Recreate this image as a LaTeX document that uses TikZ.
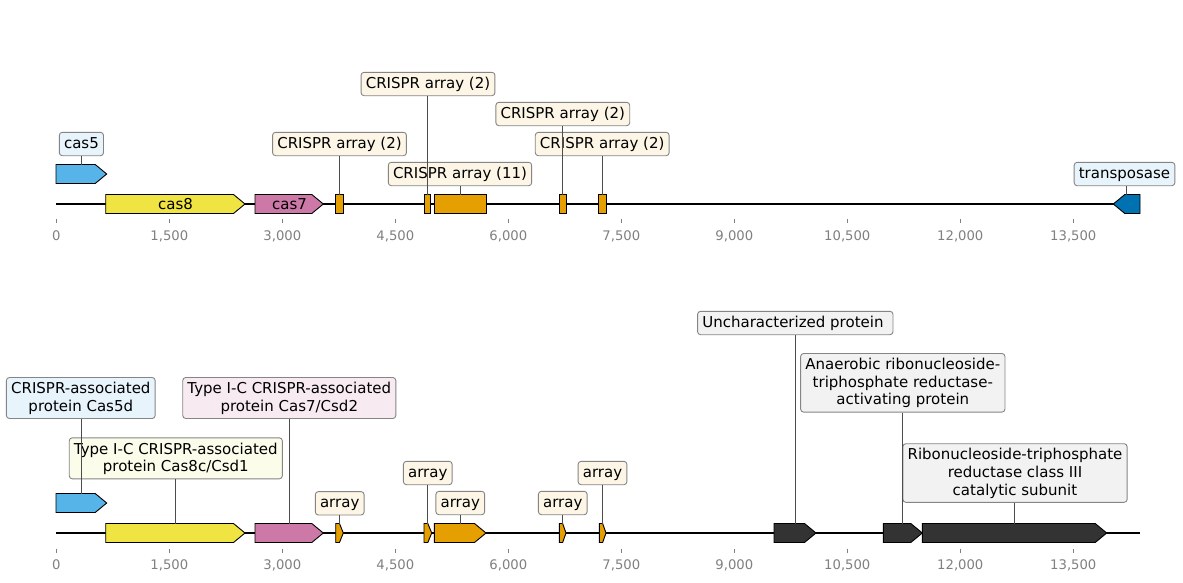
\documentclass[tikz,border=0pt]{standalone}
\usepackage{fontspec}
\setmainfont{DejaVu Sans}
\definecolor{skyb}{HTML}{56B4E9}
\definecolor{yel}{HTML}{F0E442}
\definecolor{pnk}{HTML}{CC79A7}
\definecolor{org}{HTML}{E69F00}
\definecolor{dblue}{HTML}{0072B2}
\definecolor{dark}{HTML}{333333}
\definecolor{fblue}{HTML}{E8F4FC}
\definecolor{fcream}{HTML}{FDF6E6}
\definecolor{fyel}{HTML}{FCFCEA}
\definecolor{fpink}{HTML}{F7EBF1}
\definecolor{fgray}{HTML}{F2F2F2}
\definecolor{edgegray}{HTML}{858585}
\definecolor{tickgray}{HTML}{808080}
\newcommand{\gst}{\rule[-4.3pt]{0pt}{17.6pt}}
\newcommand{\fgene}[5]{%
  \pgfmathsetmacro{\gL}{min(11.5,(#3-#2)/2)}%
  \pgfmathsetmacro{\gS}{#3-\gL}%
  \draw[gene,fill=#5] (#2,#4-9.5) -- (\gS,#4-9.5) -- (#3,#4) -- (\gS,#4+9.5) -- (#2,#4+9.5) -- cycle;
  \coordinate (#1) at ({(#2+#3)/2},#4-9.5);}
\newcommand{\rgene}[5]{%
  \pgfmathsetmacro{\gL}{min(11.5,(#3-#2)/2)}%
  \pgfmathsetmacro{\gS}{#2+\gL}%
  \draw[gene,fill=#5] (#2,#4) -- (\gS,#4-9.5) -- (#3,#4-9.5) -- (#3,#4+9.5) -- (\gS,#4+9.5) -- cycle;
  \coordinate (#1) at ({(#2+#3)/2},#4-9.5);}
\newcommand{\bgene}[5]{%
  \draw[gene,fill=#5] (#2,#4-9.5) rectangle (#3,#4+9.5);
  \coordinate (#1) at ({(#2+#3)/2},#4-9.5);}
\tikzset{
  gene/.style={draw=black, line width=0.9pt, line join=miter},
  lbl/.style={draw=edgegray, rounded corners=3pt, inner xsep=4.7pt, inner ysep=2.9pt,
    align=center, font=\fontsize{15}{17.6}\selectfont, line width=0.9pt},
  conn/.style={draw=black!70, line width=0.8pt},
  axisline/.style={line width=1.8pt, black},
  tickmark/.style={draw=tickgray, line width=0.8pt},
  ticklbl/.style={text=tickgray, font=\fontsize{13.2}{15}\selectfont, inner sep=0pt, text height=9.6pt, text depth=0pt},
  inlbl/.style={font=\fontsize{15}{17.6}\selectfont, inner sep=0pt, text height=11pt, text depth=0pt}
}
\begin{document}
\begin{tikzpicture}[x=1pt,y=-1pt]
\useasboundingbox[fill=white] (0,0) rectangle (1183,582);
% ===== axes =====
\draw[axisline] (56,204) -- (1140,204);
\draw[axisline] (56,533) -- (1140,533);
\foreach \k/\t in {0/0,1/{1,500},2/{3,000},3/{4,500},4/{6,000},5/{7,500},6/{9,000},7/{10,500},8/{12,000},9/{13,500}}{
  \draw[tickmark] (56.3+\k*113,219.3) -- ++(0,4);
  \node[ticklbl] (ta\k) at (56.3+\k*113,236) {\t};
  \draw[tickmark] (56.3+\k*113,548.5) -- ++(0,4);
  \node[ticklbl] (tb\k) at (56.3+\k*113,565) {\t};
}
% ===== top track =====
\fgene{a1}{56}{106.7}{174}{skyb}
\fgene{a2}{105.7}{245}{204}{yel}
\fgene{a3}{255}{323.3}{204}{pnk}
\bgene{a4}{335.7}{343.3}{204}{org}
\bgene{a5}{424.3}{430.7}{204}{org}
\bgene{a6}{434.3}{486}{204}{org}
\bgene{a7}{559.3}{566}{204}{org}
\bgene{a8}{598.7}{606.7}{204}{org}
\rgene{a9}{1113.3}{1140}{204}{dblue}
\node[inlbl] (cas8) at (175.5,204) {cas8};
\node[inlbl] (cas7) at (289.5,204) {cas7};
\node[lbl,fill=fblue] (la1) at (81.4,144) {\gst cas5};
\node[lbl,fill=fcream] (la4) at (339.5,144) {\gst CRISPR array (2)};
\node[lbl,fill=fcream] (la5) at (428,84) {\gst CRISPR array (2)};
\node[lbl,fill=fcream] (la6) at (460,174) {\gst CRISPR array (11)};
\node[lbl,fill=fcream] (la7) at (562.8,114) {\gst CRISPR array (2)};
\node[lbl,fill=fcream] (la8) at (602.2,144) {\gst CRISPR array (2)};
\node[lbl,fill=fblue] (la9) at (1124.5,174) {\gst transposase};
\foreach \i in {1,4,5,6,7,8,9}{\draw[conn] (la\i.south -| a\i) -- (a\i);}
% ===== bottom track =====
\fgene{b1}{56}{106.7}{503}{skyb}
\fgene{b2}{105.7}{245}{533}{yel}
\fgene{b3}{255}{323.3}{533}{pnk}
\fgene{b4}{335.7}{343.3}{533}{org}
\fgene{b5}{424}{431.7}{533}{org}
\fgene{b6}{434.3}{486}{533}{org}
\fgene{b7}{559.3}{566}{533}{org}
\fgene{b8}{599.3}{606}{533}{org}
\fgene{b9}{774}{816}{533}{dark}
\fgene{b10}{883.3}{922.3}{533}{dark}
\fgene{b11}{922.3}{1106.7}{533}{dark}
\node[lbl,fill=fblue] (lb1) at (80.8,398) {\gst CRISPR-associated\\\gst protein Cas5d};
\node[lbl,fill=fyel] (lb2) at (175.8,458.3) {\gst Type I-C CRISPR-associated\\\gst protein Cas8c/Csd1};
\node[lbl,fill=fpink] (lb3) at (289.3,398) {\gst Type I-C CRISPR-associated\\\gst protein Cas7/Csd2};
\node[lbl,fill=fcream] (lb4) at (339.7,503.3) {\gst array};
\node[lbl,fill=fcream] (lb5) at (427.8,473) {\gst array};
\node[lbl,fill=fcream] (lb6) at (460.3,503) {\gst array};
\node[lbl,fill=fcream] (lb7) at (562.8,503) {\gst array};
\node[lbl,fill=fcream] (lb8) at (602.5,473) {\gst array};
\node[lbl,fill=fgray] (lb9) at (795.3,323) {\gst Uncharacterized protein\ };
\node[lbl,fill=fgray] (lb10) at (902.8,382.8) {\gst Anaerobic ribonucleoside-\\\gst triphosphate reductase-\\\gst activating protein};
\node[lbl,fill=fgray] (lb11) at (1015,473) {\gst Ribonucleoside-triphosphate\\\gst reductase class III\\\gst catalytic subunit};
\foreach \i in {1,...,11}{\draw[conn] (lb\i.south -| b\i) -- (b\i);}
\end{tikzpicture}
\end{document}
